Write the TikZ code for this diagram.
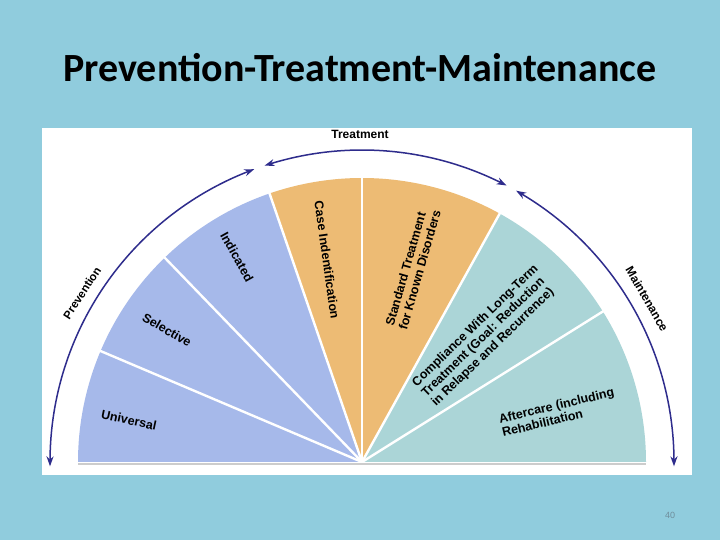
\documentclass[tikz,border=0pt]{standalone}
\usepackage{fontspec}
\setmainfont{Liberation Sans}
\newfontfamily\titlefont{Carlito}
\usetikzlibrary{arrows.meta,bending}
\definecolor{bgblue}{HTML}{90CCDD}
\definecolor{wblue}{HTML}{A6B9EA}
\definecolor{worange}{HTML}{EDBB74}
\definecolor{wteal}{HTML}{ABD5D7}
\definecolor{arrowblue}{HTML}{2E2C8C}
\definecolor{pagegray}{HTML}{6F8E9C}
\tikzset{
  wedgeline/.style={draw=white, line width=2.4pt, line join=round},
  cyclearc/.style={draw=arrowblue, line width=1.5pt, {Stealth[length=10pt,width=7pt,bend]}-{Stealth[length=10pt,width=7pt,bend]}},
  seglabel/.style={font=\bfseries\fontsize{12.5}{13.8}\selectfont, text=black, align=left, inner sep=0pt},
  phaselabel/.style={font=\bfseries\fontsize{12}{13}\selectfont, text=black, inner sep=0pt}
}
\begin{document}
\begin{tikzpicture}[x=1pt,y=1pt]
\useasboundingbox (0,0) rectangle (720,540);
\fill[bgblue] (0,0) rectangle (720,540);
% title
\node[font=\titlefont\bfseries\fontsize{40}{44}\selectfont] (title) at (360,472) {Prevention-Treatment-Maintenance};
% white panel
\fill[white] (42,65) rectangle (692,412);
\coordinate (C) at (362,78);
\def\R{284}
% wedges
\fill[wblue]   (C) -- ++(180:\R) arc[start angle=180, end angle=157, radius=\R] -- cycle;
\fill[wblue]   (C) -- ++(157:\R) arc[start angle=157, end angle=134, radius=\R] -- cycle;
\fill[wblue]   (C) -- ++(134:\R) arc[start angle=134, end angle=109, radius=\R] -- cycle;
\fill[worange] (C) -- ++(109:\R) arc[start angle=109, end angle=90, radius=\R] -- cycle;
\fill[worange] (C) -- ++(90:\R) arc[start angle=90, end angle=61, radius=\R] -- cycle;
\fill[wteal]   (C) -- ++(61:\R) arc[start angle=61, end angle=32, radius=\R] -- cycle;
\fill[wteal]   (C) -- ++(32:\R) arc[start angle=32, end angle=0, radius=\R] -- cycle;
% separators
\foreach \a in {157,134,109,90,61,32}{
  \draw[wedgeline] (C) -- ++(\a:\R+3);
}
\draw[black!20, line width=1.2pt] ([xshift=-\R]C) ++(0,-2) -- ++(2*\R,0);
% cycle arcs
\def\Ra{312}
\draw[cyclearc] ([shift={(180.8:\Ra)}]C) arc[start angle=180.8, end angle=110.2, radius=\Ra];
\draw[cyclearc] ([shift={(108.2:\Ra)}]C) arc[start angle=108.2, end angle=62.4, radius=\Ra];
\draw[cyclearc] ([shift={(60.4:\Ra)}]C) arc[start angle=60.4, end angle=-0.8, radius=\Ra];
% phase labels
\node[phaselabel] (treat) at (360,406) {Treatment};
\node[phaselabel, rotate=57, font=\bfseries\fontsize{11.5}{12}\selectfont] (prev) at (82,247) {Prevention};
\node[phaselabel, rotate=-60] (maint) at (647,241) {Maintenance};
% segment labels
\node[seglabel, rotate=-12] (univ) at (129,120) {Universal};
\node[seglabel, rotate=-30] (sel) at (167,210) {Selective};
\node[seglabel, rotate=-61] (ind) at (237,283) {Indicated};
\node[seglabel, rotate=-82] (case) at (327,280) {Case Indentification};
\node[seglabel, rotate=74] (std) at (413,272) {Standard Treatment\\for Known Disorders};
\node[seglabel, rotate=44] (comp) at (485,204) {Compliance With Long-Term\\Treatment (Goal: Reduction\\in Relapse and Recurrence)};
\node[seglabel, rotate=13.5] (after) at (558,128) {Aftercare (including\\Rehabilitation};
% page number
\node[text=pagegray, font=\fontsize{9}{10}\selectfont] (pnum) at (670,25) {40};
\end{tikzpicture}
\end{document}
